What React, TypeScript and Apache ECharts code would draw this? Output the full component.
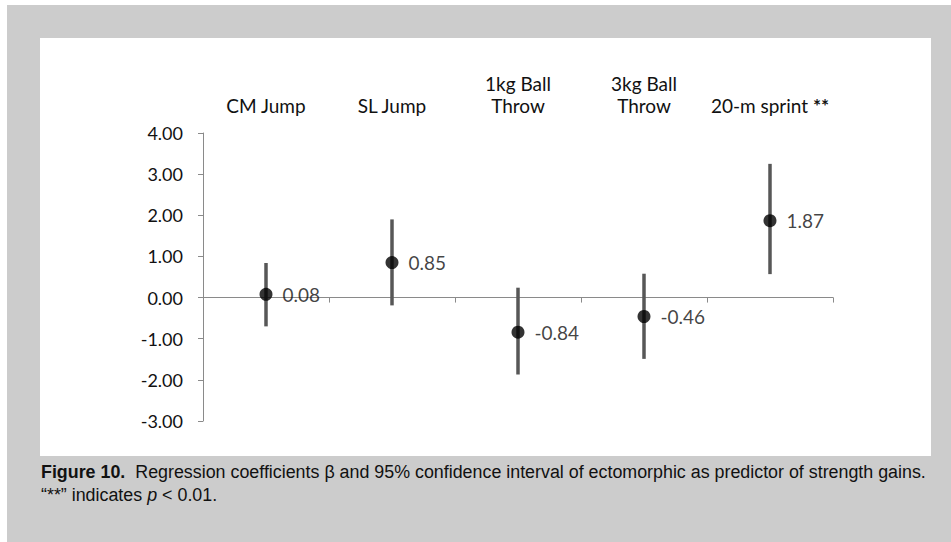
import React, { useEffect, useRef } from "react";
import * as echarts from "echarts";

const categories = ["CM Jump", "SL Jump", "1kg Ball\nThrow", "3kg Ball\nThrow", "20-m sprint **"];
const coefficients = [0.08, 0.85, -0.84, -0.46, 1.87];
const ciLower = [-0.7, -0.19, -1.87, -1.49, 0.57];
const ciUpper = [0.84, 1.9, 0.24, 0.58, 3.25];
const yMin = -3;
const yMax = 4;
const yInterval = 1;
const captionLine1Bold = "Figure 10.";
const captionLine1 = "Regression coefficients \u03b2 and 95% confidence interval of ectomorphic as predictor of strength gains.";
const captionLine2a = "\u201c**\u201d indicates ";
const captionLine2p = "p";
const captionLine2b = " < 0.01.";

const chartFont = "Lato, 'Open Sans', sans-serif";
const captionFont = "'Liberation Sans Narrow', 'Liberation Sans', Arial, sans-serif";

export default function App() {
  const ref = useRef<HTMLDivElement>(null);
  useEffect(() => {
    if (!ref.current) return;
    const chart = echarts.init(ref.current, undefined, { renderer: "svg" });
    const errData = categories.map((_, i) => [i, ciLower[i], ciUpper[i]]);
    const option: any = {
      animation: false,
      backgroundColor: "transparent",
      grid: { left: 203, right: 118, top: 133, bottom: 121, containLabel: false },
      xAxis: [
        {
          type: "category",
          data: categories,
          position: "bottom",
          axisLine: { onZero: true, lineStyle: { color: "#8a8a8a", width: 1 } },
          axisTick: { show: true, inside: false, length: 5, lineStyle: { color: "#8a8a8a" } },
          axisLabel: { show: false },
          splitLine: { show: false },
        },
        {
          type: "category",
          data: categories,
          position: "top",
          axisLine: { show: false, onZero: false },
          axisTick: { show: false },
          splitLine: { show: false },
          axisLabel: {
            show: true,
            interval: 0,
            margin: 17,
            color: "#111",
            fontFamily: chartFont,
            fontSize: 19,
            lineHeight: 22,
            formatter: (v: string) => v.replace("**", "{b|**}"),
            rich: {
              b: { fontFamily: chartFont, fontSize: 19, fontWeight: "bold", color: "#111", lineHeight: 22 },
            },
          },
        },
      ],
      yAxis: {
        type: "value",
        min: yMin,
        max: yMax,
        interval: yInterval,
        axisLine: { show: true, lineStyle: { color: "#8a8a8a", width: 1 } },
        axisTick: { show: true, inside: false, length: 5, lineStyle: { color: "#8a8a8a" } },
        splitLine: { show: false },
        axisLabel: {
          margin: 20,
          color: "#111",
          fontFamily: chartFont,
          fontSize: 18,
          formatter: (v: number) => v.toFixed(2),
        },
      },
      series: [
        {
          type: "custom",
          xAxisIndex: 0,
          z: 2,
          data: errData,
          encode: { x: 0, y: [1, 2] },
          renderItem: (params: any, api: any) => {
            const x = api.value(0);
            const p1 = api.coord([x, api.value(1)]);
            const p2 = api.coord([x, api.value(2)]);
            return {
              type: "line",
              shape: { x1: p1[0], y1: p1[1], x2: p2[0], y2: p2[1] },
              style: { stroke: "#575757", lineWidth: 3.5 },
            };
          },
        },
        {
          type: "scatter",
          xAxisIndex: 0,
          z: 3,
          data: coefficients,
          symbol: "circle",
          symbolSize: 13,
          itemStyle: { color: "#000" },
          label: {
            show: true,
            position: "right",
            distance: 10,
            color: "#111",
            fontFamily: chartFont,
            fontSize: 19,
            formatter: (p: any) => Number(p.value).toFixed(2),
          },
        },
      ],
      graphic: [
        { type: "rect", z: -10, shape: { x: 7, y: 5, width: 944, height: 537 }, style: { fill: "#cccccc" } },
        { type: "rect", z: -9, shape: { x: 40, y: 38, width: 891, height: 418 }, style: { fill: "#ffffff" } },
        {
          type: "text",
          z: 10,
          x: 41,
          y: 471,
          scaleX: 0.94,
          style: {
            text: "{b|" + captionLine1Bold + "}  " + captionLine1,
            fontFamily: captionFont,
            fontSize: 19,
            fill: "#111",
            verticalAlign: "middle",
            rich: {
              b: { fontFamily: captionFont, fontSize: 19, fontWeight: "bold", fill: "#111" },
            },
          },
        },
        {
          type: "text",
          z: 10,
          x: 41,
          y: 494,
          scaleX: 0.94,
          style: {
            text: captionLine2a + "{i|" + captionLine2p + "}" + captionLine2b,
            fontFamily: captionFont,
            fontSize: 19,
            fill: "#111",
            verticalAlign: "middle",
            rich: {
              i: { fontFamily: captionFont, fontSize: 19, fontStyle: "italic", fill: "#111" },
            },
          },
        },
      ],
    };
    chart.setOption(option);
    return () => chart.dispose();
  }, []);
  return (
    <div style={{ position: "fixed", left: 0, top: 0, width: 951, height: 542, background: "#fff" }}>
      <div ref={ref} style={{ width: 951, height: 542 }} />
    </div>
  );
}
